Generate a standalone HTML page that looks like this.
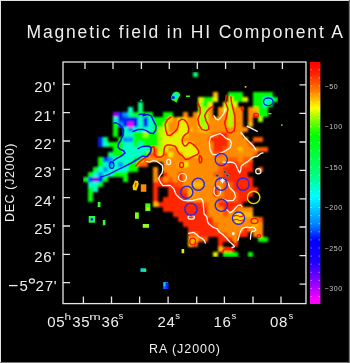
<!DOCTYPE html>
<html><head><meta charset="utf-8"><style>
html,body{margin:0;padding:0;background:#000;}
body{width:350px;height:363px;overflow:hidden;position:relative;}
svg{position:absolute;left:0;top:0;font-family:"Liberation Sans",sans-serif;}
</style></head><body>
<svg width="350" height="363" viewBox="0 0 350 363">
<defs>
<linearGradient id="cbg" x1="0" y1="0" x2="0" y2="1">
<stop offset="0.000" stop-color="#ff0000"/>
<stop offset="0.045" stop-color="#ff1e00"/>
<stop offset="0.120" stop-color="#ff8000"/>
<stop offset="0.190" stop-color="#ffff00"/>
<stop offset="0.227" stop-color="#a0ff00"/>
<stop offset="0.302" stop-color="#00ff00"/>
<stop offset="0.467" stop-color="#00ff80"/>
<stop offset="0.554" stop-color="#00ffff"/>
<stop offset="0.616" stop-color="#00beff"/>
<stop offset="0.674" stop-color="#0080ff"/>
<stop offset="0.736" stop-color="#0000ff"/>
<stop offset="0.826" stop-color="#1e00ff"/>
<stop offset="0.901" stop-color="#8200ff"/>
<stop offset="0.983" stop-color="#ff00ff"/>
<stop offset="1.000" stop-color="#ff00ff"/>
</linearGradient>
<filter id="bl" x="0" y="0" width="1" height="1"><feGaussianBlur stdDeviation="1.1"/></filter>
</defs>
<rect x="0" y="0" width="350" height="363" fill="#000"/>
<g filter="url(#bl)">
<rect x="193" y="72" width="5" height="5" fill="#00ff78"/>
<rect x="213" y="92" width="5" height="5" fill="#ffb900"/>
<rect x="228" y="92" width="15" height="5" fill="#00ff00"/>
<rect x="253" y="92" width="20" height="5" fill="#00ff00"/>
<rect x="198" y="97" width="5" height="5" fill="#e6f000"/>
<rect x="203" y="97" width="10" height="5" fill="#00ff00"/>
<rect x="213" y="97" width="5" height="5" fill="#e6f000"/>
<rect x="228" y="97" width="5" height="5" fill="#e6f000"/>
<rect x="233" y="97" width="10" height="5" fill="#00ff00"/>
<rect x="243" y="97" width="5" height="5" fill="#e6f000"/>
<rect x="253" y="97" width="10" height="5" fill="#00ff00"/>
<rect x="263" y="97" width="10" height="5" fill="#00ffc8"/>
<rect x="273" y="97" width="5" height="5" fill="#00ff00"/>
<rect x="138" y="102" width="5" height="5" fill="#00ff78"/>
<rect x="198" y="102" width="5" height="5" fill="#a0ff00"/>
<rect x="203" y="102" width="5" height="5" fill="#00ff00"/>
<rect x="208" y="102" width="5" height="5" fill="#e6f000"/>
<rect x="223" y="102" width="5" height="5" fill="#e6f000"/>
<rect x="228" y="102" width="5" height="5" fill="#a0ff00"/>
<rect x="233" y="102" width="5" height="5" fill="#e6f000"/>
<rect x="253" y="102" width="10" height="5" fill="#00ff00"/>
<rect x="263" y="102" width="5" height="5" fill="#00ffc8"/>
<rect x="268" y="102" width="5" height="5" fill="#00ff00"/>
<rect x="128" y="107" width="5" height="5" fill="#00ffc8"/>
<rect x="138" y="107" width="5" height="5" fill="#00ff78"/>
<rect x="198" y="107" width="10" height="5" fill="#a0ff00"/>
<rect x="208" y="107" width="5" height="5" fill="#ff8c00"/>
<rect x="218" y="107" width="5" height="5" fill="#ff8c00"/>
<rect x="223" y="107" width="5" height="5" fill="#e6f000"/>
<rect x="228" y="107" width="5" height="5" fill="#a0ff00"/>
<rect x="233" y="107" width="10" height="5" fill="#ff8c00"/>
<rect x="248" y="107" width="5" height="5" fill="#ff8c00"/>
<rect x="253" y="107" width="5" height="5" fill="#ffb900"/>
<rect x="258" y="107" width="10" height="5" fill="#00ff00"/>
<rect x="113" y="112" width="5" height="5" fill="#9600ff"/>
<rect x="118" y="112" width="5" height="5" fill="#0020f0"/>
<rect x="123" y="112" width="5" height="5" fill="#0090ff"/>
<rect x="128" y="112" width="5" height="5" fill="#00ff78"/>
<rect x="133" y="112" width="20" height="5" fill="#00ff00"/>
<rect x="163" y="112" width="10" height="5" fill="#00ff00"/>
<rect x="183" y="112" width="5" height="5" fill="#ff8c00"/>
<rect x="193" y="112" width="5" height="5" fill="#ff8c00"/>
<rect x="198" y="112" width="10" height="5" fill="#a0ff00"/>
<rect x="208" y="112" width="5" height="5" fill="#ff8c00"/>
<rect x="218" y="112" width="10" height="5" fill="#ff8c00"/>
<rect x="228" y="112" width="5" height="5" fill="#a0ff00"/>
<rect x="233" y="112" width="10" height="5" fill="#ff8c00"/>
<rect x="248" y="112" width="5" height="5" fill="#ff8c00"/>
<rect x="253" y="112" width="5" height="5" fill="#ff5a00"/>
<rect x="258" y="112" width="10" height="5" fill="#00ff00"/>
<rect x="113" y="117" width="5" height="5" fill="#00ffc8"/>
<rect x="118" y="117" width="20" height="5" fill="#0020f0"/>
<rect x="138" y="117" width="5" height="5" fill="#00ffc8"/>
<rect x="143" y="117" width="5" height="5" fill="#0020f0"/>
<rect x="148" y="117" width="5" height="5" fill="#00ffc8"/>
<rect x="153" y="117" width="15" height="5" fill="#00ff00"/>
<rect x="168" y="117" width="5" height="5" fill="#ffb900"/>
<rect x="173" y="117" width="5" height="5" fill="#ff8c00"/>
<rect x="178" y="117" width="5" height="5" fill="#e6f000"/>
<rect x="183" y="117" width="5" height="5" fill="#ffb900"/>
<rect x="188" y="117" width="10" height="5" fill="#ff8c00"/>
<rect x="198" y="117" width="10" height="5" fill="#a0ff00"/>
<rect x="208" y="117" width="20" height="5" fill="#ff8c00"/>
<rect x="228" y="117" width="5" height="5" fill="#a0ff00"/>
<rect x="233" y="117" width="10" height="5" fill="#ff8c00"/>
<rect x="248" y="117" width="5" height="5" fill="#ff8c00"/>
<rect x="258" y="117" width="5" height="5" fill="#a0ff00"/>
<rect x="113" y="122" width="5" height="5" fill="#00ff00"/>
<rect x="118" y="122" width="5" height="5" fill="#0090ff"/>
<rect x="123" y="122" width="5" height="5" fill="#0020f0"/>
<rect x="128" y="122" width="5" height="5" fill="#ff00ff"/>
<rect x="133" y="122" width="5" height="5" fill="#0020f0"/>
<rect x="138" y="122" width="5" height="5" fill="#00ffc8"/>
<rect x="143" y="122" width="5" height="5" fill="#0020f0"/>
<rect x="148" y="122" width="5" height="5" fill="#00ffc8"/>
<rect x="153" y="122" width="10" height="5" fill="#00ff00"/>
<rect x="163" y="122" width="5" height="5" fill="#a0ff00"/>
<rect x="168" y="122" width="10" height="5" fill="#ff8c00"/>
<rect x="178" y="122" width="10" height="5" fill="#e6f000"/>
<rect x="188" y="122" width="10" height="5" fill="#ff8c00"/>
<rect x="198" y="122" width="10" height="5" fill="#a0ff00"/>
<rect x="208" y="122" width="20" height="5" fill="#ff8c00"/>
<rect x="228" y="122" width="5" height="5" fill="#a0ff00"/>
<rect x="233" y="122" width="10" height="5" fill="#ff8c00"/>
<rect x="248" y="122" width="5" height="5" fill="#ffb900"/>
<rect x="113" y="127" width="5" height="5" fill="#00ff00"/>
<rect x="123" y="127" width="5" height="5" fill="#00ffc8"/>
<rect x="128" y="127" width="5" height="5" fill="#0090ff"/>
<rect x="133" y="127" width="20" height="5" fill="#00ffc8"/>
<rect x="153" y="127" width="5" height="5" fill="#00ff00"/>
<rect x="158" y="127" width="5" height="5" fill="#a0ff00"/>
<rect x="163" y="127" width="5" height="5" fill="#e6f000"/>
<rect x="168" y="127" width="10" height="5" fill="#ff8c00"/>
<rect x="178" y="127" width="10" height="5" fill="#e6f000"/>
<rect x="188" y="127" width="5" height="5" fill="#ffb900"/>
<rect x="193" y="127" width="5" height="5" fill="#ff8c00"/>
<rect x="198" y="127" width="5" height="5" fill="#ffb900"/>
<rect x="203" y="127" width="5" height="5" fill="#a0ff00"/>
<rect x="208" y="127" width="40" height="5" fill="#ff8c00"/>
<rect x="113" y="132" width="5" height="5" fill="#00ff00"/>
<rect x="123" y="132" width="10" height="5" fill="#00ffc8"/>
<rect x="133" y="132" width="10" height="5" fill="#00ff00"/>
<rect x="143" y="132" width="5" height="5" fill="#a0ff00"/>
<rect x="148" y="132" width="10" height="5" fill="#00ff00"/>
<rect x="158" y="132" width="5" height="5" fill="#a0ff00"/>
<rect x="163" y="132" width="5" height="5" fill="#e6f000"/>
<rect x="168" y="132" width="5" height="5" fill="#ffb900"/>
<rect x="173" y="132" width="15" height="5" fill="#e6f000"/>
<rect x="188" y="132" width="25" height="5" fill="#ff8c00"/>
<rect x="213" y="132" width="5" height="5" fill="#ff5a00"/>
<rect x="218" y="132" width="10" height="5" fill="#ff2800"/>
<rect x="228" y="132" width="15" height="5" fill="#ff8c00"/>
<rect x="98" y="137" width="5" height="5" fill="#0020f0"/>
<rect x="103" y="137" width="5" height="5" fill="#00ff78"/>
<rect x="118" y="137" width="5" height="5" fill="#00ff00"/>
<rect x="123" y="137" width="10" height="5" fill="#0090ff"/>
<rect x="133" y="137" width="25" height="5" fill="#00ff00"/>
<rect x="158" y="137" width="5" height="5" fill="#a0ff00"/>
<rect x="163" y="137" width="20" height="5" fill="#e6f000"/>
<rect x="183" y="137" width="25" height="5" fill="#ff8c00"/>
<rect x="208" y="137" width="20" height="5" fill="#ff2800"/>
<rect x="228" y="137" width="20" height="5" fill="#ff8c00"/>
<rect x="253" y="137" width="10" height="5" fill="#ff5a00"/>
<rect x="98" y="142" width="5" height="5" fill="#0020f0"/>
<rect x="103" y="142" width="5" height="5" fill="#00ffc8"/>
<rect x="108" y="142" width="15" height="5" fill="#00ff00"/>
<rect x="123" y="142" width="10" height="5" fill="#00ffc8"/>
<rect x="133" y="142" width="5" height="5" fill="#00ff00"/>
<rect x="138" y="142" width="5" height="5" fill="#00ffc8"/>
<rect x="143" y="142" width="15" height="5" fill="#00ff00"/>
<rect x="158" y="142" width="5" height="5" fill="#a0ff00"/>
<rect x="163" y="142" width="30" height="5" fill="#e6f000"/>
<rect x="193" y="142" width="20" height="5" fill="#ff8c00"/>
<rect x="213" y="142" width="15" height="5" fill="#ff2800"/>
<rect x="228" y="142" width="20" height="5" fill="#ff8c00"/>
<rect x="248" y="142" width="5" height="5" fill="#ff5a00"/>
<rect x="113" y="147" width="10" height="5" fill="#00ff00"/>
<rect x="123" y="147" width="25" height="5" fill="#00ffc8"/>
<rect x="148" y="147" width="5" height="5" fill="#00ff00"/>
<rect x="153" y="147" width="5" height="5" fill="#ff5a00"/>
<rect x="158" y="147" width="5" height="5" fill="#a0ff00"/>
<rect x="163" y="147" width="5" height="5" fill="#e6f000"/>
<rect x="168" y="147" width="10" height="5" fill="#ff8c00"/>
<rect x="178" y="147" width="20" height="5" fill="#e6f000"/>
<rect x="198" y="147" width="15" height="5" fill="#ff8c00"/>
<rect x="213" y="147" width="10" height="5" fill="#ff2800"/>
<rect x="223" y="147" width="5" height="5" fill="#ff5a00"/>
<rect x="228" y="147" width="10" height="5" fill="#ff8c00"/>
<rect x="238" y="147" width="5" height="5" fill="#ffb900"/>
<rect x="243" y="147" width="15" height="5" fill="#ff8c00"/>
<rect x="258" y="147" width="10" height="5" fill="#ff5a00"/>
<rect x="108" y="152" width="5" height="5" fill="#00ff78"/>
<rect x="113" y="152" width="10" height="5" fill="#00ff00"/>
<rect x="123" y="152" width="20" height="5" fill="#00ffc8"/>
<rect x="143" y="152" width="5" height="5" fill="#00ff00"/>
<rect x="148" y="152" width="10" height="5" fill="#ff5a00"/>
<rect x="158" y="152" width="5" height="5" fill="#e6f000"/>
<rect x="163" y="152" width="5" height="5" fill="#ff5a00"/>
<rect x="168" y="152" width="5" height="5" fill="#e6f000"/>
<rect x="173" y="152" width="10" height="5" fill="#ff8c00"/>
<rect x="183" y="152" width="15" height="5" fill="#e6f000"/>
<rect x="198" y="152" width="15" height="5" fill="#ff8c00"/>
<rect x="213" y="152" width="10" height="5" fill="#ff5a00"/>
<rect x="223" y="152" width="30" height="5" fill="#ff8c00"/>
<rect x="253" y="152" width="5" height="5" fill="#ff5a00"/>
<rect x="98" y="157" width="5" height="5" fill="#00ff00"/>
<rect x="103" y="157" width="5" height="5" fill="#0020f0"/>
<rect x="108" y="157" width="5" height="5" fill="#0090ff"/>
<rect x="113" y="157" width="20" height="5" fill="#00ffc8"/>
<rect x="133" y="157" width="10" height="5" fill="#00ff00"/>
<rect x="143" y="157" width="5" height="5" fill="#ff5a00"/>
<rect x="148" y="157" width="80" height="5" fill="#ff8c00"/>
<rect x="228" y="157" width="10" height="5" fill="#ff5a00"/>
<rect x="238" y="157" width="5" height="5" fill="#ff8c00"/>
<rect x="243" y="157" width="10" height="5" fill="#ff5a00"/>
<rect x="98" y="162" width="5" height="5" fill="#00ff00"/>
<rect x="103" y="162" width="5" height="5" fill="#00ffc8"/>
<rect x="108" y="162" width="5" height="5" fill="#0090ff"/>
<rect x="113" y="162" width="5" height="5" fill="#00ffc8"/>
<rect x="118" y="162" width="5" height="5" fill="#0090ff"/>
<rect x="123" y="162" width="5" height="5" fill="#00ffc8"/>
<rect x="128" y="162" width="10" height="5" fill="#00ff00"/>
<rect x="138" y="162" width="10" height="5" fill="#ff5a00"/>
<rect x="163" y="162" width="15" height="5" fill="#ff8c00"/>
<rect x="178" y="162" width="5" height="5" fill="#ffb900"/>
<rect x="183" y="162" width="5" height="5" fill="#e6f000"/>
<rect x="188" y="162" width="30" height="5" fill="#ff8c00"/>
<rect x="218" y="162" width="10" height="5" fill="#ff5a00"/>
<rect x="228" y="162" width="10" height="5" fill="#ff2800"/>
<rect x="238" y="162" width="10" height="5" fill="#ff5a00"/>
<rect x="248" y="162" width="5" height="5" fill="#ff2800"/>
<rect x="93" y="167" width="5" height="5" fill="#00ff00"/>
<rect x="98" y="167" width="5" height="5" fill="#00ffc8"/>
<rect x="103" y="167" width="5" height="5" fill="#0090ff"/>
<rect x="108" y="167" width="20" height="5" fill="#00ffc8"/>
<rect x="128" y="167" width="10" height="5" fill="#00ff00"/>
<rect x="153" y="167" width="5" height="5" fill="#ff8c00"/>
<rect x="163" y="167" width="55" height="5" fill="#ff8c00"/>
<rect x="218" y="167" width="5" height="5" fill="#ff5a00"/>
<rect x="223" y="167" width="30" height="5" fill="#ff2800"/>
<rect x="258" y="167" width="5" height="5" fill="#ff5a00"/>
<rect x="88" y="172" width="5" height="5" fill="#00ff00"/>
<rect x="93" y="172" width="5" height="5" fill="#00ffc8"/>
<rect x="98" y="172" width="5" height="5" fill="#0090ff"/>
<rect x="103" y="172" width="10" height="5" fill="#00ffc8"/>
<rect x="113" y="172" width="15" height="5" fill="#00ff00"/>
<rect x="153" y="172" width="5" height="5" fill="#ff8c00"/>
<rect x="163" y="172" width="5" height="5" fill="#ff2800"/>
<rect x="168" y="172" width="10" height="5" fill="#ff8c00"/>
<rect x="178" y="172" width="5" height="5" fill="#ff2800"/>
<rect x="183" y="172" width="30" height="5" fill="#ff8c00"/>
<rect x="213" y="172" width="10" height="5" fill="#ff5a00"/>
<rect x="223" y="172" width="25" height="5" fill="#ff2800"/>
<rect x="83" y="177" width="5" height="5" fill="#00ff00"/>
<rect x="88" y="177" width="5" height="5" fill="#0020f0"/>
<rect x="93" y="177" width="5" height="5" fill="#9600ff"/>
<rect x="98" y="177" width="5" height="5" fill="#0020f0"/>
<rect x="103" y="177" width="5" height="5" fill="#00ff00"/>
<rect x="123" y="177" width="5" height="5" fill="#00ff00"/>
<rect x="153" y="177" width="5" height="5" fill="#ff8c00"/>
<rect x="158" y="177" width="5" height="5" fill="#ff2800"/>
<rect x="163" y="177" width="5" height="5" fill="#ff8c00"/>
<rect x="168" y="177" width="5" height="5" fill="#ff5a00"/>
<rect x="173" y="177" width="5" height="5" fill="#ff8c00"/>
<rect x="178" y="177" width="5" height="5" fill="#ff2800"/>
<rect x="183" y="177" width="35" height="5" fill="#ff8c00"/>
<rect x="218" y="177" width="5" height="5" fill="#ff5a00"/>
<rect x="223" y="177" width="30" height="5" fill="#ff2800"/>
<rect x="88" y="182" width="10" height="5" fill="#00ffc8"/>
<rect x="98" y="182" width="5" height="5" fill="#00ff00"/>
<rect x="153" y="182" width="20" height="5" fill="#ff2800"/>
<rect x="173" y="182" width="5" height="5" fill="#ff4000"/>
<rect x="178" y="182" width="5" height="5" fill="#ff5a00"/>
<rect x="183" y="182" width="10" height="5" fill="#ff8c00"/>
<rect x="193" y="182" width="10" height="5" fill="#ffb900"/>
<rect x="203" y="182" width="20" height="5" fill="#ff8c00"/>
<rect x="223" y="182" width="10" height="5" fill="#ff5a00"/>
<rect x="233" y="182" width="20" height="5" fill="#ff2800"/>
<rect x="88" y="187" width="5" height="5" fill="#00ff00"/>
<rect x="93" y="187" width="5" height="5" fill="#00ffc8"/>
<rect x="153" y="187" width="5" height="5" fill="#ff2800"/>
<rect x="168" y="187" width="15" height="5" fill="#ff2800"/>
<rect x="183" y="187" width="5" height="5" fill="#ff5a00"/>
<rect x="188" y="187" width="5" height="5" fill="#ffb900"/>
<rect x="193" y="187" width="20" height="5" fill="#ff8c00"/>
<rect x="213" y="187" width="5" height="5" fill="#ff2800"/>
<rect x="218" y="187" width="5" height="5" fill="#ff8c00"/>
<rect x="223" y="187" width="10" height="5" fill="#ff5a00"/>
<rect x="233" y="187" width="25" height="5" fill="#ff2800"/>
<rect x="88" y="192" width="5" height="5" fill="#00ff00"/>
<rect x="153" y="192" width="5" height="5" fill="#ff2800"/>
<rect x="168" y="192" width="20" height="5" fill="#ff2800"/>
<rect x="188" y="192" width="5" height="5" fill="#ffb900"/>
<rect x="193" y="192" width="20" height="5" fill="#ff8c00"/>
<rect x="213" y="192" width="5" height="5" fill="#ff2800"/>
<rect x="218" y="192" width="5" height="5" fill="#ff8c00"/>
<rect x="223" y="192" width="15" height="5" fill="#ff5a00"/>
<rect x="238" y="192" width="15" height="5" fill="#ff2800"/>
<rect x="88" y="197" width="5" height="5" fill="#00ff00"/>
<rect x="153" y="197" width="5" height="5" fill="#ff2800"/>
<rect x="163" y="197" width="25" height="5" fill="#ff2800"/>
<rect x="188" y="197" width="30" height="5" fill="#ff8c00"/>
<rect x="218" y="197" width="20" height="5" fill="#ff5a00"/>
<rect x="238" y="197" width="10" height="5" fill="#ff2800"/>
<rect x="153" y="202" width="5" height="5" fill="#ffb900"/>
<rect x="158" y="202" width="45" height="5" fill="#ff2800"/>
<rect x="203" y="202" width="5" height="5" fill="#ff5a00"/>
<rect x="208" y="202" width="10" height="5" fill="#ff8c00"/>
<rect x="218" y="202" width="25" height="5" fill="#ff2800"/>
<rect x="163" y="207" width="45" height="5" fill="#ff2800"/>
<rect x="208" y="207" width="15" height="5" fill="#ff8c00"/>
<rect x="223" y="207" width="10" height="5" fill="#ff2800"/>
<rect x="233" y="207" width="5" height="5" fill="#ff5a00"/>
<rect x="238" y="207" width="15" height="5" fill="#ff8c00"/>
<rect x="173" y="212" width="35" height="5" fill="#ff2800"/>
<rect x="208" y="212" width="15" height="5" fill="#ff8c00"/>
<rect x="223" y="212" width="5" height="5" fill="#ff5a00"/>
<rect x="228" y="212" width="5" height="5" fill="#ff8c00"/>
<rect x="233" y="212" width="20" height="5" fill="#ffb900"/>
<rect x="178" y="217" width="35" height="5" fill="#ff2800"/>
<rect x="213" y="217" width="20" height="5" fill="#ff8c00"/>
<rect x="233" y="217" width="5" height="5" fill="#ffb900"/>
<rect x="238" y="217" width="5" height="5" fill="#e6f000"/>
<rect x="243" y="217" width="10" height="5" fill="#ff8c00"/>
<rect x="253" y="217" width="5" height="5" fill="#ffb900"/>
<rect x="258" y="217" width="5" height="5" fill="#ff5a00"/>
<rect x="183" y="222" width="30" height="5" fill="#ff2800"/>
<rect x="213" y="222" width="5" height="5" fill="#ff5a00"/>
<rect x="218" y="222" width="35" height="5" fill="#ff8c00"/>
<rect x="253" y="222" width="5" height="5" fill="#ffb900"/>
<rect x="258" y="222" width="5" height="5" fill="#ff8c00"/>
<rect x="188" y="227" width="30" height="5" fill="#ff2800"/>
<rect x="218" y="227" width="25" height="5" fill="#ff8c00"/>
<rect x="243" y="227" width="5" height="5" fill="#ff2800"/>
<rect x="248" y="227" width="15" height="5" fill="#ff8c00"/>
<rect x="188" y="232" width="10" height="5" fill="#ff5a00"/>
<rect x="198" y="232" width="25" height="5" fill="#ff2800"/>
<rect x="223" y="232" width="5" height="5" fill="#ff5a00"/>
<rect x="228" y="232" width="10" height="5" fill="#ff8c00"/>
<rect x="238" y="232" width="10" height="5" fill="#ff2800"/>
<rect x="253" y="232" width="10" height="5" fill="#ff8c00"/>
<rect x="188" y="237" width="10" height="5" fill="#ffb900"/>
<rect x="198" y="237" width="10" height="5" fill="#ff5a00"/>
<rect x="218" y="237" width="15" height="5" fill="#ff2800"/>
<rect x="233" y="237" width="5" height="5" fill="#ff8c00"/>
<rect x="258" y="237" width="10" height="5" fill="#00ff00"/>
<rect x="188" y="242" width="5" height="5" fill="#ffb900"/>
<rect x="193" y="242" width="5" height="5" fill="#ff5a00"/>
<rect x="218" y="242" width="5" height="5" fill="#ff2800"/>
<rect x="233" y="242" width="5" height="5" fill="#ff2800"/>
<rect x="218" y="247" width="5" height="5" fill="#ffb900"/>
<rect x="223" y="247" width="5" height="5" fill="#ff5a00"/>
<rect x="228" y="247" width="5" height="5" fill="#ff2800"/>
<rect x="213" y="252" width="5" height="5" fill="#e6f000"/>
<rect x="223" y="252" width="15" height="5" fill="#00ff00"/>
<rect x="248" y="252" width="5" height="5" fill="#00ff00"/>
</g>
<path d="M136.0 166.0 L139.5 162.0 L143.0 159.1 L146.4 156.9 L149.9 154.0 L151.0 150.0 L152.1 147.1 L153.9 146.6 L154.4 150.0 L154.4 154.6 L156.7 156.9 L161.3 156.9 L163.7 154.9 L164.1 149.1 L165.1 146.3 L167.3 144.9 L170.9 145.1 L173.5 145.8 L175.0 146.3 L176.3 147.7 L177.6 151.2 L179.4 153.8 L182.1 155.6 L183.8 157.4 L185.6 159.6 L188.2 159.1 L191.3 157.4 L194.0 156.0 L197.1 154.7 L198.8 152.9 L198.4 150.3 L196.2 147.2 L193.5 144.6 L190.9 142.8 L188.7 142.8 L186.5 145.4 L184.3 145.9 L182.5 143.2 L182.1 139.7 L183.4 136.6 L185.6 134.4 L188.2 132.6 L188.8 129.0 L188.4 127.0 L187.0 122.7 L184.4 119.9 L181.6 119.1 L178.7 121.3 L178.4 124.9 L177.3 129.1 L173.7 132.7 L170.1 135.6 L167.3 134.9 L165.9 130.6 L165.1 124.1 L167.3 119.9 L170.9 117.0 M197.9 103.1 L200.1 107.7 L200.1 113.4 L197.9 119.1 L199.0 124.9 L201.9 129.4 L205.9 130.6 L208.7 129.4 L208.7 126.0 L205.9 120.3 L204.7 115.7 L207.0 111.1 L210.4 107.7 L212.7 106.6 M226.3 95.3 L225.4 102.1 L228.0 109.0 L226.3 117.6 L224.7 122.6 L225.9 128.3 L227.6 132.3 L231.0 132.9 L233.9 131.1 L235.0 126.0 L234.9 115.9 L233.1 109.0 L231.4 102.1 L231.0 97.0 M199.5 155.5 L199.0 159.0 L199.8 162.8 L201.4 162.5 L201.9 159.0 L200.8 156.0 M222.5 252.0 L224.0 249.5 L228.0 248.6 L232.0 249.0 L234.6 251.0" fill="none" stroke="#ff1000" stroke-width="1.5" stroke-linejoin="round" stroke-linecap="round"/>
<ellipse cx="181.6" cy="164.9" rx="2.0" ry="2.6" fill="none" stroke="#ff1000" stroke-width="1.3"/>
<ellipse cx="192.7" cy="241.5" rx="2.9" ry="3.4" fill="none" stroke="#ff1000" stroke-width="1.3"/>
<ellipse cx="254.5" cy="220.9" rx="3.5" ry="2.6" fill="none" stroke="#ff1000" stroke-width="1.3"/>
<ellipse cx="242.4" cy="108.8" rx="1.2" ry="1.8" fill="none" stroke="#ff1000" stroke-width="1.3"/>
<ellipse cx="256" cy="115.2" rx="2.4" ry="1.8" fill="none" stroke="#ff1000" stroke-width="1.3"/>
<ellipse cx="259" cy="236" rx="1.8" ry="1.4" fill="none" stroke="#ff1000" stroke-width="1.3"/>
<path d="M146.4 161.4 L150.0 162.1 L152.9 160.7 L157.1 161.4 L160.0 163.6 L162.1 165.0 L162.9 168.6 L162.1 172.9 L160.0 175.7 L158.6 178.6 L160.7 182.9 L162.9 185.7 L166.5 185.5 L170.4 185.4 L173.9 188.9 L176.1 194.6 L179.6 198.0 L183.0 200.3 L187.6 200.9 L193.3 200.3 L197.9 199.1 L201.3 198.6 L203.0 201.4 L203.6 208.3 L204.1 214.0 L205.9 215.7 L207.0 217.4 L207.6 222.0 L209.3 224.3 L212.7 227.1 L217.3 228.9 L219.6 232.3 L223.0 234.6 L226.4 238.0 L229.9 242.0 L233.3 244.9 L234.4 246.6 L232.1 247.7 M188.7 233.4 L193.3 232.3 L196.7 234.6 L199.0 236.9 L202.4 238.6 L204.7 240.9 L205.3 243.1 M237.9 240.3 L240.1 232.3 L242.4 228.3 L245.9 227.1 L250.4 227.7 L252.7 227.1 L255.0 228.3 L256.1 230.0 L254.4 231.1 L252.1 231.1 L251.0 233.4 L250.4 239.1 M227.6 182.0 L229.9 187.7 L234.4 192.3 L235.6 196.9 L233.3 200.3 L227.6 200.9 L223.0 199.1 M226.4 209.4 L229.9 212.9 L233.3 210.6 L237.9 205.4 L240.7 204.9 L241.9 206.6 M223.0 162.0 L226.4 162.6 L229.9 162.0 L233.3 162.6 L235.6 164.3 L237.9 169.4 L239.6 172.9 L240.7 170.6 L241.3 166.0 L244.1 163.7 L248.1 161.4 L250.4 159.1 L253.9 156.9 L257.3 156.3 L260.7 153.4 L263.0 152.9 M209.3 142.0 L210.4 137.4 L213.9 135.7 L217.3 134.5 L220.1 133.4 L223.0 135.6 L225.9 138.4 L230.1 139.9 L231.6 143.4 L230.1 147.7 L225.9 150.6 L221.6 152.5 L217.3 154.3 L213.0 154.6 L211.6 152.9 L209.9 148.9 L209.3 142.0 M213.9 115.7 L216.1 119.1 L218.4 119.9 L220.7 117.7 L223.2 114.5 L224.4 112.0 L225.0 109.0 M240.9 132.7 L243.0 134.9 L245.1 137.7 L247.3 139.9 L250.1 142.7 L253.7 146.3 L255.9 149.9 M247.3 126.3 L250.1 127.7 L254.4 129.9 L257.3 131.3" fill="none" stroke="#fff4ec" stroke-width="1.3" stroke-linejoin="round" stroke-linecap="round"/>
<ellipse cx="233.3" cy="233.5" rx="0.9" ry="0.9" fill="none" stroke="#fff4ec" stroke-width="1.2"/>
<ellipse cx="182.5" cy="177.5" rx="4.0" ry="4.0" fill="none" stroke="#fff4ec" stroke-width="1.2"/>
<ellipse cx="168.7" cy="162" rx="2.0" ry="2.6" fill="none" stroke="#fff4ec" stroke-width="1.2"/>
<ellipse cx="258.3" cy="171.3" rx="2.6" ry="2.6" fill="none" stroke="#fff4ec" stroke-width="1.2"/>
<ellipse cx="217.3" cy="190.9" rx="3.4" ry="4.9" fill="none" stroke="#fff4ec" stroke-width="1.2"/>
<ellipse cx="191.2" cy="217.4" rx="3.2" ry="1.7" fill="none" stroke="#fff4ec" stroke-width="1.2"/>
<path d="M100.6 177.1 L108.3 174.6 L116.0 170.7 L123.7 166.8 L131.4 163.0 L137.0 159.5 L142.6 156.0 L147.1 156.7 L150.6 152.1 L151.1 147.6 L148.3 145.9 L142.6 146.4 L138.0 148.7 M143.0 115.7 L147.6 114.6 L151.0 115.7 L152.7 119.1 L154.4 122.6 L156.1 126.0 L155.6 130.6 L153.3 133.4 L149.9 132.9 L146.4 130.6 L143.0 129.4 L138.0 129.5 L133.0 131.5 M113.9 123.1 L115.6 122.6 L119.0 124.3 L121.9 127.1 L123.6 130.6 L123.0 135.1 L121.3 138.6 L120.7 140.7 L118.6 143.6 L117.9 147.1 L120.0 149.3 L123.6 150.7 L125.0 152.9 L122.9 155.0 L119.3 157.1 L116.4 158.6 L113.6 160.7 M139.0 114.5 L145.0 114.0" fill="none" stroke="#0a14e6" stroke-width="1.5" stroke-linejoin="round" stroke-linecap="round"/>
<ellipse cx="111.7" cy="165.2" rx="2.2" ry="3.2" fill="none" stroke="#0a14e6" stroke-width="1.3"/>
<ellipse cx="268.3" cy="101.8" rx="4.8" ry="3.8" fill="none" stroke="#0a14e6" stroke-width="1.3"/>
<circle cx="238.5" cy="218.1" r="5.6" fill="#ffe000"/>
<path d="M233.5 216.5 Q236 214.5 238.5 216 T243.5 215.5 M233.3 220.5 Q236 218.5 238.5 220 T243.5 219.5" stroke="#ff2000" stroke-width="1.1" fill="none"/>
<circle cx="221.3" cy="159.5" r="6.1" fill="none" stroke="#2828e6" stroke-width="1.4"/>
<circle cx="198.2" cy="184.2" r="6.1" fill="none" stroke="#2828e6" stroke-width="1.4"/>
<circle cx="186.8" cy="192.2" r="6.1" fill="none" stroke="#2828e6" stroke-width="1.4"/>
<circle cx="190.9" cy="209.2" r="6.1" fill="none" stroke="#2828e6" stroke-width="1.4"/>
<circle cx="221.3" cy="184.1" r="6.1" fill="none" stroke="#2828e6" stroke-width="1.4"/>
<circle cx="243.1" cy="184.1" r="6.1" fill="none" stroke="#2828e6" stroke-width="1.4"/>
<circle cx="221.3" cy="205.3" r="6.1" fill="none" stroke="#2828e6" stroke-width="1.4"/>
<circle cx="238.5" cy="218.1" r="6.1" fill="none" stroke="#2828e6" stroke-width="1.4"/>
<circle cx="253.6" cy="197.4" r="6.2" fill="none" stroke="#e6e000" stroke-width="1.4"/>
<circle cx="217.2" cy="175.6" r="1.4" fill="#303030" stroke="#9a9a9a" stroke-width="0.6"/>
<circle cx="224.9" cy="171.9" r="1.4" fill="#303030" stroke="#9a9a9a" stroke-width="0.6"/>
<circle cx="227.4" cy="175.6" r="1.4" fill="#303030" stroke="#9a9a9a" stroke-width="0.6"/>
<path d="M222.5 178.3v5 M220 180.8h5 M220.7 179l3.6 3.6 M224.3 179l-3.6 3.6" stroke="#ffffff" stroke-width="1"/>
<rect x="97.7" y="202" width="2.8" height="5" fill="#30ff30"/>
<rect x="88.7" y="216" width="6.4" height="6.7" fill="#20ff40"/><circle cx="91.8" cy="219.4" r="1.4" fill="#1030ff"/>
<rect x="102.8" y="220" width="2.6" height="5.3" fill="#30ff30"/>
<rect x="135" y="212.4" width="3.8" height="6.4" fill="#80ff00"/>
<rect x="142.7" y="224" width="6.3" height="3.8" fill="#90ff20"/>
<rect x="145.3" y="203.4" width="5.1" height="7.7" fill="#40ff00"/><rect x="146.5" y="207" width="3" height="3" fill="#c0ff00"/>
<path d="M132.5 186 L135 180.5 L137.8 181 L138.8 184 L136.5 190.6 L133 190Z" fill="#ffd000"/><path d="M135.2 182.5 L136.8 183 L135.5 187.5 L134.6 186.5Z" fill="#ff3000"/>
<rect x="140.8" y="184.3" width="5.5" height="7.5" fill="#ff8c00"/>
<rect x="181.6" y="249" width="2.6" height="4.2" fill="#e8f000"/>
<rect x="140.5" y="268.3" width="5.5" height="3.6" fill="#00e0d0"/><rect x="144.5" y="269.5" width="1.8" height="2" fill="#40ff40"/>
<rect x="163.2" y="282" width="5" height="7" fill="#0070ff"/><rect x="163.5" y="282.3" width="2.4" height="4" fill="#00d0ff"/><rect x="165.6" y="283" width="2.6" height="5.8" fill="#0020ff"/>
<path d="M171 97 L173 93 L176 91.5 L179 92.5 L180.5 95 L178 99 L176.5 102.8 L174 101 L171.5 100Z" fill="#20ff20"/><ellipse cx="176" cy="95.5" rx="2.6" ry="2" fill="#00e8ff"/><ellipse cx="173.2" cy="97.6" rx="1.8" ry="1.5" fill="#0020ff"/>
<rect x="185.9" y="95.5" width="4" height="1.6" fill="#40ff00"/>
<rect x="268" y="113" width="3.5" height="1.4" fill="#20ff00"/>
<rect x="281" y="124.3" width="1.6" height="1.6" fill="#20ff00"/>
<rect x="140.5" y="99.6" width="1.6" height="1.6" fill="#00ff80"/>
<rect x="244.7" y="86" width="1.7" height="1.7" fill="#ffc000"/>
<rect x="63" y="62" width="243" height="241.60000000000002" fill="none" stroke="#e6e6e6" stroke-width="1.3"/>
<path d="M85 62v7 M113 62v7 M141.4 62v7 M169.3 62v7 M197.3 62v7 M225.6 62v7 M254 62v7 M282.4 62v7 M83.4 303.6v-7 M111.5 303.6v-7 M139.6 303.6v-7 M168.1 303.6v-7 M196.7 303.6v-7 M224.4 303.6v-7 M253 303.6v-7 M281 303.6v-7 M63 84.4h7 M63 112.6h7 M63 141h7 M63 169.3h7 M63 197.7h7 M63 226h7 M63 254.3h7 M63 282.7h7 M306 84.9h-6.5 M306 113.4h-6.5 M306 142h-6.5 M306 170.3h-6.5 M306 198.9h-6.5 M306 227h-6.5 M306 255.6h-6.5 M306 284.1h-6.5" stroke="#e6e6e6" stroke-width="1.3" fill="none"/>
<rect x="310" y="62" width="10.4" height="242" fill="url(#cbg)"/>
<path d="M310.5 69.8h1.5 M320 69.8h-1.5 M310.5 77.9h1.5 M320 77.9h-1.5 M310.5 86.0h1.5 M320 86.0h-1.5 M310.5 94.1h1.5 M320 94.1h-1.5 M310.5 102.2h1.5 M320 102.2h-1.5 M310.5 110.3h1.5 M320 110.3h-1.5 M310.5 118.4h1.5 M320 118.4h-1.5 M310.5 126.5h1.5 M320 126.5h-1.5 M310.5 134.6h1.5 M320 134.6h-1.5 M310.5 142.7h1.5 M320 142.7h-1.5 M310.5 150.8h1.5 M320 150.8h-1.5 M310.5 158.9h1.5 M320 158.9h-1.5 M310.5 167.0h1.5 M320 167.0h-1.5 M310.5 175.1h1.5 M320 175.1h-1.5 M310.5 183.2h1.5 M320 183.2h-1.5 M310.5 191.3h1.5 M320 191.3h-1.5 M310.5 199.4h1.5 M320 199.4h-1.5 M310.5 207.5h1.5 M320 207.5h-1.5 M310.5 215.6h1.5 M320 215.6h-1.5 M310.5 223.7h1.5 M320 223.7h-1.5 M310.5 231.8h1.5 M320 231.8h-1.5 M310.5 239.9h1.5 M320 239.9h-1.5 M310.5 248.0h1.5 M320 248.0h-1.5 M310.5 256.1h1.5 M320 256.1h-1.5 M310.5 264.2h1.5 M320 264.2h-1.5 M310.5 272.3h1.5 M320 272.3h-1.5 M310.5 280.4h1.5 M320 280.4h-1.5 M310.5 288.5h1.5 M320 288.5h-1.5 M310.5 296.6h1.5 M320 296.6h-1.5" stroke="#ffffff" stroke-opacity="0.55" stroke-width="0.8" fill="none"/>
<g opacity="0.995"><text x="26.5" y="38" font-size="17.5" textLength="316.5" lengthAdjust="spacing" fill="#f0f0f0">Magnetic field in HI Component A</text>
<text x="34.2" y="92.3" font-size="15" letter-spacing="0.8" fill="#f0f0f0">20'</text>
<text x="34.2" y="120.5" font-size="15" letter-spacing="0.8" fill="#f0f0f0">21'</text>
<text x="34.2" y="148.9" font-size="15" letter-spacing="0.8" fill="#f0f0f0">22'</text>
<text x="34.2" y="177.2" font-size="15" letter-spacing="0.8" fill="#f0f0f0">23'</text>
<text x="34.2" y="205.6" font-size="15" letter-spacing="0.8" fill="#f0f0f0">24'</text>
<text x="34.2" y="233.9" font-size="15" letter-spacing="0.8" fill="#f0f0f0">25'</text>
<text x="34.2" y="262.2" font-size="15" letter-spacing="0.8" fill="#f0f0f0">26'</text>
<path d="M9 285.6H17.6" stroke="#f0f0f0" stroke-width="1.3"/>
<text x="19.4" y="291.0" font-size="15" fill="#f0f0f0">5</text>
<ellipse cx="31.9" cy="281" rx="2.5" ry="2.1" fill="none" stroke="#f0f0f0" stroke-width="1.2"/>
<text x="35.5" y="291.0" font-size="15" letter-spacing="0.8" fill="#f0f0f0">27'</text>
<text x="47.3" y="326.8" font-size="15" letter-spacing="0.7" fill="#f0f0f0">05</text>
<text x="64.4" y="319.6" font-size="9.2" textLength="6.6" lengthAdjust="spacingAndGlyphs" fill="#f0f0f0">h</text>
<text x="72.3" y="326.8" font-size="15" letter-spacing="0.7" fill="#f0f0f0">35</text>
<text x="89.3" y="319.6" font-size="9.2" textLength="11.5" lengthAdjust="spacingAndGlyphs" fill="#f0f0f0">m</text>
<text x="101.4" y="326.8" font-size="15" letter-spacing="0.7" fill="#f0f0f0">36</text>
<text x="118.5" y="319.2" font-size="9.5" fill="#f0f0f0">s</text>
<text x="157.4" y="326.8" font-size="15" letter-spacing="0.7" fill="#f0f0f0">24</text>
<text x="175.2" y="319.2" font-size="9.5" fill="#f0f0f0">s</text>
<text x="213.5" y="326.8" font-size="15" letter-spacing="0.7" fill="#f0f0f0">16</text>
<text x="231.4" y="319.2" font-size="9.5" fill="#f0f0f0">s</text>
<text x="270" y="326.8" font-size="15" letter-spacing="0.7" fill="#f0f0f0">08</text>
<text x="288.4" y="319.2" font-size="9.5" fill="#f0f0f0">s</text>
<text x="149" y="353" font-size="12.5" textLength="71" lengthAdjust="spacing" fill="#f0f0f0">RA (J2000)</text>
<text x="0" y="0" font-size="12.5" textLength="78.5" lengthAdjust="spacing" fill="#f0f0f0" transform="translate(13.8,222) rotate(-90)">DEC (J2000)</text>
<text x="324.5" y="88.6" font-size="7" fill="#c8c8c8" letter-spacing="0.6">&#8722;50</text>
<text x="324.5" y="129.1" font-size="7" fill="#c8c8c8" letter-spacing="0.6">&#8722;100</text>
<text x="324.5" y="169.6" font-size="7" fill="#c8c8c8" letter-spacing="0.6">&#8722;150</text>
<text x="324.5" y="210.1" font-size="7" fill="#c8c8c8" letter-spacing="0.6">&#8722;200</text>
<text x="324.5" y="250.6" font-size="7" fill="#c8c8c8" letter-spacing="0.6">&#8722;250</text>
<text x="324.5" y="291.1" font-size="7" fill="#c8c8c8" letter-spacing="0.6">&#8722;300</text></g>
<path d="M0.5 0V363 M0 0.5H350" stroke="#e0e0e0" stroke-width="1"/>
<path d="M349.4 0V363 M0 362.5H350" stroke="#777" stroke-width="1.2"/>
</svg>
</body></html>
